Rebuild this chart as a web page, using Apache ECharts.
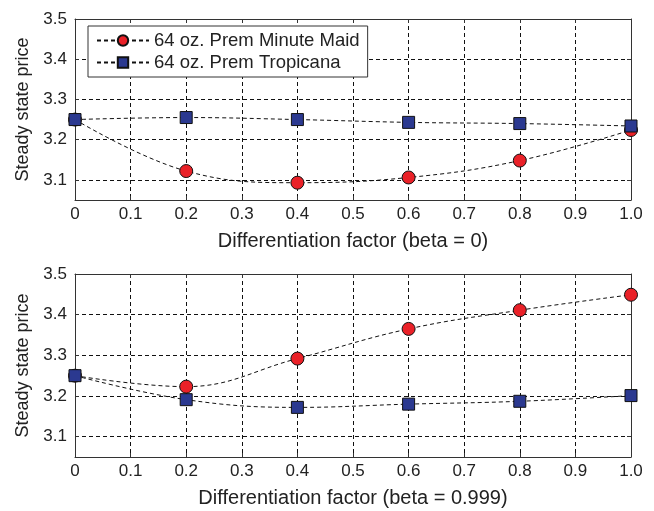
<!DOCTYPE html>
<html>
<head>
<meta charset="utf-8">
<script src="https://cdn.jsdelivr.net/npm/echarts@6/dist/echarts.min.js"></script>
<style>html,body{margin:0;padding:0;background:#fff}#c{width:654px;height:511px}</style>
</head>
<body>
<div id="c"></div>
<script>
const xValues = [0, 0.2, 0.4, 0.6, 0.8, 1.0];
const xTickLabels = ['0','0.1','0.2','0.3','0.4','0.5','0.6','0.7','0.8','0.9','1.0'];
const yTickValues = [3.1, 3.2, 3.3, 3.4, 3.5];
const seriesNames = ['64 oz. Prem Minute Maid', '64 oz. Prem Tropicana'];
const topMinuteMaid = [3.25, 3.122, 3.093, 3.106, 3.148, 3.224];
const topTropicana = [3.25, 3.255, 3.250, 3.243, 3.240, 3.234];
const botMinuteMaid = [3.25, 3.223, 3.292, 3.365, 3.411, 3.449];
const botTropicana = [3.25, 3.191, 3.172, 3.180, 3.187, 3.201];
const xTitles = ['Differentiation factor (beta = 0)', 'Differentiation factor (beta = 0.999)'];
const yTitle = 'Steady state price';

const FONT = "'Liberation Sans', Arial, sans-serif";
const TXT = '#222';
const gridLine = {show: true, lineStyle: {color: '#111', type: [4, 3], width: 1}};
const axisLine = {show: true, onZero: false, lineStyle: {color: '#333', width: 1}};

function pairs(vals){ return xValues.map((x,i)=>[x, vals[i]]); }

const grids = [
  {left: 75, right: 23, top: 19, height: 181},
  {left: 75, right: 23, top: 274, height: 183}
];

const xAxes = [], yAxes = [];
grids.forEach((g, gi) => {
  xAxes.push({
    type: 'value', gridIndex: gi, min: 0, max: 1, interval: 0.1, position: 'bottom',
    name: xTitles[gi], nameLocation: 'middle', nameGap: 31,
    nameTextStyle: {fontFamily: FONT, fontSize: 20, color: TXT},
    axisLine: axisLine,
    axisTick: {show: true, inside: true, length: 4, lineStyle: {color: '#333'}},
    axisLabel: {fontFamily: FONT, fontSize: 17, color: TXT, margin: 6,
      formatter: (v) => xTickLabels[Math.round(v * 10)]},
    splitLine: gridLine
  });
  xAxes.push({
    type: 'value', gridIndex: gi, min: 0, max: 1, interval: 0.1, position: 'top',
    axisLine: axisLine, axisTick: {show: true, inside: true, length: 4, lineStyle: {color: '#333'}},
    axisLabel: {show: false}, splitLine: {show: false}
  });
  yAxes.push({
    type: 'value', gridIndex: gi, min: 3.05, max: 3.5, position: 'left',
    name: yTitle, nameLocation: 'middle', nameGap: 40, nameRotate: 90,
    nameTextStyle: {fontFamily: FONT, fontSize: 18, color: TXT},
    axisLine: axisLine,
    axisTick: {show: true, inside: true, length: 4, customValues: yTickValues, lineStyle: {color: '#333'}},
    axisLabel: {fontFamily: FONT, fontSize: 17, color: TXT, margin: 8, customValues: yTickValues,
      formatter: (v) => v.toFixed(1)},
    splitLine: gridLine
  });
  yAxes.push({
    type: 'value', gridIndex: gi, min: 3.05, max: 3.5, position: 'right',
    axisLine: axisLine,
    axisTick: {show: true, inside: true, length: 4, customValues: yTickValues, lineStyle: {color: '#333'}},
    axisLabel: {show: false}, splitLine: {show: false}
  });
});

function mk(name, data, gi, sym, color, size){
  return {
    name: name, type: 'line', xAxisIndex: gi * 2, yAxisIndex: gi * 2,
    data: pairs(data), smooth: 0.4, symbol: sym, symbolSize: size,
    lineStyle: {color: '#111', width: 1, type: [4, 3]},
    itemStyle: {color: color, borderColor: '#111', borderWidth: 1},
    emphasis: {disabled: true}, animation: false
  };
}

const series = [
  mk(seriesNames[0], topMinuteMaid, 0, 'circle', '#ea2128', 13),
  mk(seriesNames[1], topTropicana, 0, 'rect', '#2b3990', 12),
  mk(seriesNames[0], botMinuteMaid, 1, 'circle', '#ea2128', 13),
  mk(seriesNames[1], botTropicana, 1, 'rect', '#2b3990', 12)
];

const chart = echarts.init(document.getElementById('c'), null, {renderer: 'canvas'});
chart.setOption({
  animation: false,
  backgroundColor: '#fff',
  grid: grids,
  xAxis: xAxes,
  yAxis: yAxes,
  legend: {
    data: seriesNames, orient: 'vertical', left: 88, top: 26,
    padding: [5, 8, 5, 8], itemGap: 3, itemWidth: 52, itemHeight: 13,
    backgroundColor: '#fff', borderColor: '#333', borderWidth: 1, borderRadius: 0,
    textStyle: {fontFamily: FONT, fontSize: 18.5, color: TXT},
    selectedMode: false
  },
  series: series
});
</script>
</body>
</html>
